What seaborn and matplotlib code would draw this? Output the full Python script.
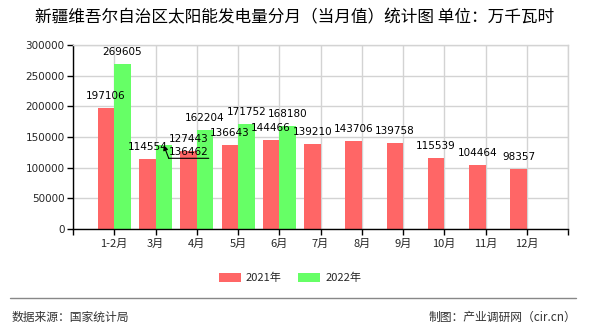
import numpy as np
import pandas as pd
import matplotlib
matplotlib.use("Agg")
import matplotlib.pyplot as plt
import matplotlib.lines as mlines
from matplotlib.text import OffsetFrom
import seaborn as sns

months = ["1-2月", "3月", "4月", "5月", "6月", "7月", "8月", "9月", "10月", "11月", "12月"]
values_2021 = [197106, 114554, 127443, 136643, 144466, 139210, 143706, 139758, 115539, 104464, 98357]
values_2022 = [269605, 136462, 162204, 171752, 168180, np.nan, np.nan, np.nan, np.nan, np.nan, np.nan]
series = ["2021年", "2022年"]
colors = ["#FF6666", "#66FF66"]
y_ticks = [0, 50000, 100000, 150000, 200000, 250000, 300000]

title = "新疆维吾尔自治区太阳能发电量分月（当月值）统计图 单位：万千瓦时"
source = "数据来源：国家统计局"
maker = "制图：产业调研网（cir.cn）"

df = pd.DataFrame({
    "month": months * 2,
    "value": values_2021 + values_2022,
    "year": [series[0]] * len(months) + [series[1]] * len(months),
})

sns.set_theme(style="white")
plt.rcParams["font.family"] = ["Noto Sans CJK SC", "DejaVu Sans"]

fig = plt.figure(figsize=(5.9, 3.3), dpi=100)
ax = fig.add_axes([73 / 590, 1 - 229 / 330, 495 / 590, 184 / 330])

sns.barplot(data=df, x="month", y="value", hue="year", order=months,
            hue_order=series, palette=colors, width=0.8, saturation=1,
            ax=ax, errorbar=None, linewidth=0)

ax.set_xlim(-1, len(months))
ax.set_ylim(0, 300000)
ax.set_yticks(y_ticks)
ax.set_yticklabels([str(v) for v in y_ticks], fontsize=7.5, family=["DejaVu Sans"])
ax.set_xticks(range(-1, len(months) + 1), [""] + months + [""])
ax.tick_params(axis="x", labelsize=8, length=4, width=1, color="black", pad=3, bottom=True)
ax.tick_params(axis="y", length=4, width=1, color="black", pad=2, left=True)
ax.set_xlabel("")
ax.set_ylabel("")
ax.grid(True, color="#D3D3D3", linewidth=1)
ax.set_axisbelow(True)
for s in ["top", "right"]:
    ax.spines[s].set_color("#D3D3D3")
    ax.spines[s].set_linewidth(1)
for s in ["left", "bottom"]:
    ax.spines[s].set_color("black")
    ax.spines[s].set_linewidth(1)

# value labels
for ci, cont in enumerate(ax.containers):
    for mi, bar in enumerate(cont):
        h = bar.get_height()
        if np.isnan(h) or h == 0:
            continue
        bx = bar.get_x() + bar.get_width() / 2
        val = values_2021[mi] if ci == 0 else values_2022[mi]
        if ci == 1 and mi == 1:
            ax.annotate(f"{int(val)}", xy=(bx, h), xytext=(25, -7),
                        textcoords="offset pixels", ha="center", va="center",
                        fontsize=7.5, family=["DejaVu Sans"], color="black")
            ax.annotate("", xy=(bx, h), xycoords="data",
                        xytext=(5, -13), textcoords=OffsetFrom(ax.transData, (bx, h), unit="pixels"),
                        arrowprops=dict(arrowstyle="-|>", color="black", lw=0.8,
                                        mutation_scale=7, shrinkA=0, shrinkB=0))
            ax.annotate("", xy=(45, -13), xycoords=OffsetFrom(ax.transData, (bx, h), unit="pixels"),
                        xytext=(5, -13), textcoords=OffsetFrom(ax.transData, (bx, h), unit="pixels"),
                        arrowprops=dict(arrowstyle="-", color="black", lw=0.8,
                                        shrinkA=0, shrinkB=0))
            continue
        ax.annotate(f"{int(val)}", xy=(bx, h), xytext=(0, 12),
                    textcoords="offset pixels", ha="center", va="center",
                    fontsize=7.5, family=["DejaVu Sans"], color="black")

sns.move_legend(ax, "center", bbox_to_anchor=(290 / 590, 1 - 278 / 330),
                bbox_transform=fig.transFigure, ncol=2, frameon=False, title=None,
                fontsize=8, handlelength=2.0, handleheight=0.8, columnspacing=1.45,
                handletextpad=0.45)

fig.text(0.5, 1 - 18 / 330, title, ha="center", va="center", fontsize=12, color="black")
fig.add_artist(mlines.Line2D([10 / 590, 576 / 590], [1 - 298 / 330] * 2,
                             color="#888888", lw=1, transform=fig.transFigure))
fig.text(12 / 590, 1 - 317 / 330, source, ha="left", va="center", fontsize=8.5, color="#333333")
fig.text(576 / 590, 1 - 317 / 330, maker, ha="right", va="center", fontsize=8.5, color="#333333")

fig.savefig("out.png", dpi=100)
